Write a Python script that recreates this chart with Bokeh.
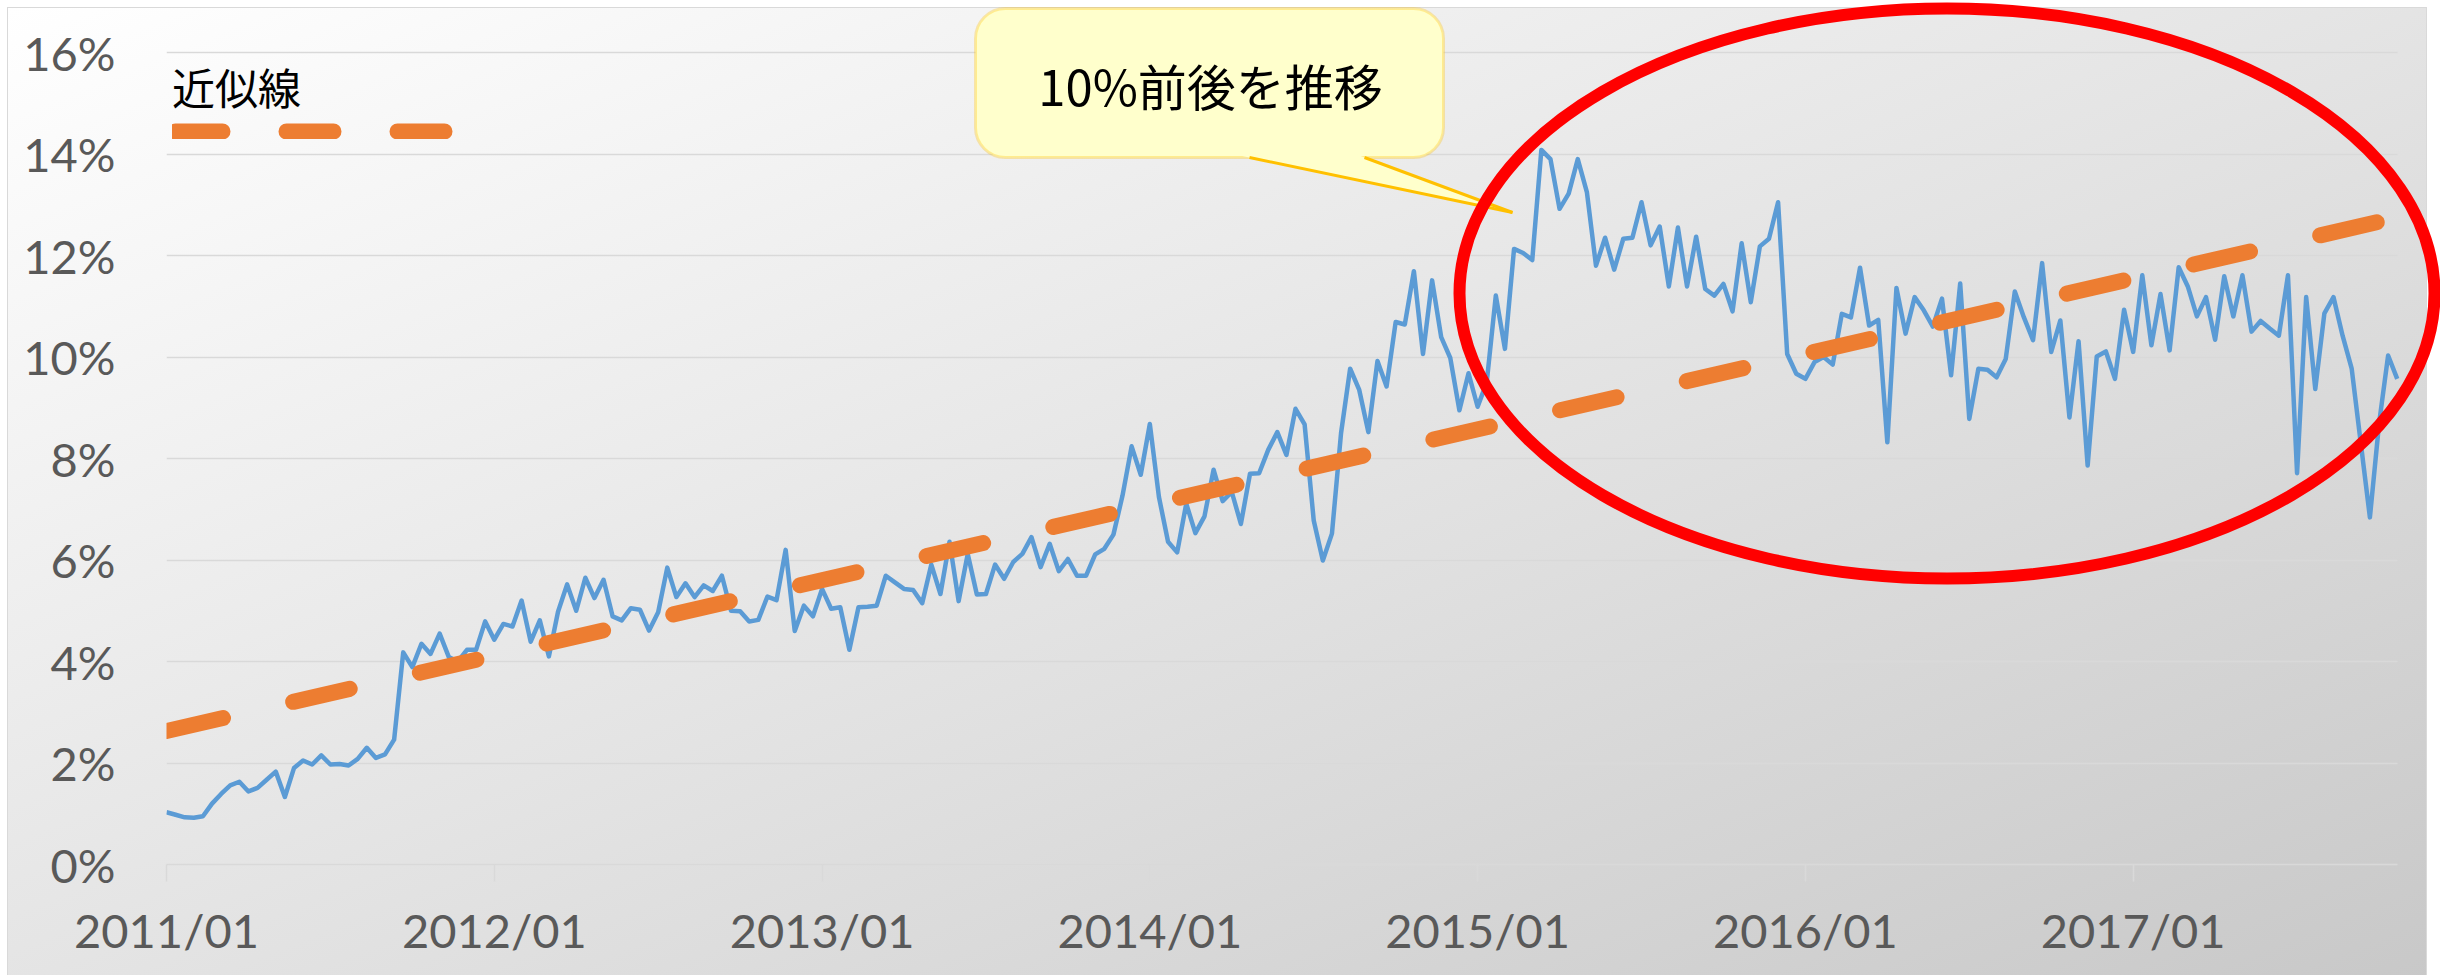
import numpy as np
from bokeh.plotting import figure
from bokeh.models import (Range1d, FixedTicker, PrintfTickFormatter, Legend, LegendItem,
                          BoxAnnotation, PolyAnnotation, Label)
from bokeh.embed import file_html
from bokeh.resources import INLINE

# ---------------- data (percent, 3 points per month: 2011/01 .. 2017/10) ----------------
rate_2011 = [1.03, 0.98, 0.93, 0.92, 0.95, 1.20, 1.39, 1.56, 1.63, 1.44,
             1.51, 1.67, 1.83, 1.33, 1.90, 2.05, 1.97, 2.15, 1.97, 1.98,
             1.95, 2.08, 2.30, 2.10, 2.17, 2.46, 4.18, 3.89, 4.35, 4.15,
             4.55, 4.09, 4.00, 4.23, 4.23, 4.79]
rate_2012 = [4.43, 4.74, 4.69, 5.20, 4.39, 4.81, 4.10, 4.98, 5.52, 5.00,
             5.65, 5.25, 5.61, 4.89, 4.81, 5.05, 5.02, 4.61, 4.97, 5.85,
             5.27, 5.54, 5.27, 5.50, 5.39, 5.69, 5.00, 4.99, 4.79, 4.82,
             5.28, 5.21, 6.20, 4.60, 5.10, 4.89]
rate_2013 = [5.43, 5.04, 5.07, 4.23, 5.07, 5.08, 5.10, 5.69, 5.56, 5.43,
             5.41, 5.15, 5.91, 5.33, 6.36, 5.19, 6.12, 5.32, 5.33, 5.91,
             5.63, 5.96, 6.12, 6.45, 5.86, 6.32, 5.78, 6.02, 5.69, 5.69,
             6.11, 6.22, 6.50, 7.27, 8.24, 7.68]
rate_2014 = [8.68, 7.24, 6.36, 6.15, 7.11, 6.53, 6.86, 7.78, 7.16, 7.34,
             6.71, 7.70, 7.71, 8.17, 8.52, 8.07, 8.98, 8.67, 6.78, 5.99,
             6.52, 8.50, 9.77, 9.35, 8.52, 9.92, 9.42, 10.69, 10.64, 11.69,
             10.06, 11.51, 10.39, 9.98, 8.95, 9.68]
rate_2015 = [9.02, 9.50, 11.21, 10.16, 12.13, 12.05, 11.91, 14.08, 13.90, 12.92,
             13.22, 13.90, 13.25, 11.80, 12.35, 11.72, 12.33, 12.35, 13.05, 12.20,
             12.57, 11.39, 12.55, 11.39, 12.37, 11.34, 11.21, 11.44, 10.90, 12.24,
             11.08, 12.18, 12.33, 13.05, 10.06, 9.67]
rate_2016 = [9.57, 9.90, 10.00, 9.85, 10.85, 10.78, 11.76, 10.62, 10.73, 8.32,
             11.36, 10.46, 11.18, 10.92, 10.60, 11.15, 9.64, 11.45, 8.78, 9.77,
             9.75, 9.60, 9.96, 11.29, 10.78, 10.33, 11.85, 10.10, 10.72, 8.81,
             10.31, 7.86, 10.01, 10.11, 9.57, 10.93]
rate_2017 = [10.10, 11.61, 10.23, 11.24, 10.13, 11.77, 11.39, 10.80, 11.18, 10.34,
             11.59, 10.80, 11.61, 10.50, 10.71, 10.56, 10.42, 11.61, 7.71, 11.18,
             9.37, 10.86, 11.18, 10.42, 9.77, 8.30, 6.84, 8.68, 10.03, 9.57]

rate = rate_2011 + rate_2012 + rate_2013 + rate_2014 + rate_2015 + rate_2016 + rate_2017
x_idx = list(range(len(rate)))

periods_per_year = 36
x_tick_labels = ["2011/01", "2012/01", "2013/01", "2014/01", "2015/01", "2016/01", "2017/01"]
y_ticks = [0, 2, 4, 6, 8, 10, 12, 14, 16]
trend_label = "近似線"
callout_text = "10%前後を推移"

# ---------------- geometry helpers (page pixels -> data) ----------------
# the figure sits at page (0, 0); the chart panel itself starts at (8, 8)
FIG_W, FIG_H = 2440, 975
BORDER_L, BORDER_B = 166, 111
PX_X0 = BORDER_L                # page x of index 0
PX_STEP = 9.105                 # pixels per period
PX_Y0 = FIG_H - BORDER_B        # page y of 0%
PX_PCT = 50.75                  # pixels per 1%

def dx(px):
    return (px - PX_X0) / PX_STEP

def dy(py):
    return (PX_Y0 - py) / PX_PCT

BLUE = "#5B9BD5"
ORANGE = "#ED7D31"
GRID = "#D9D9D9"
TXT = "#595959"
JP = "Noto Sans CJK JP"

p = figure(width=FIG_W, height=FIG_H, output_backend="svg", toolbar_location=None,
           x_range=Range1d(0, dx(FIG_W)), y_range=Range1d(0, dy(0)),
           min_border=0, min_border_left=BORDER_L, min_border_bottom=BORDER_B,
           min_border_top=0, min_border_right=0)
p.border_fill_color = None
p.background_fill_color = None
p.outline_line_color = None
p.styles = {
    "background": ("linear-gradient(to bottom right, #ffffff 0%, #e4e4e4 50%, #c8c8c8 100%) "
                   "8px 8px / 2418px 980px no-repeat, "
                   "linear-gradient(#d9d9d9, #d9d9d9) 7px 7px / 2420px 982px no-repeat, #ffffff"),
}

# axes
p.xaxis.ticker = FixedTicker(ticks=[i * periods_per_year for i in range(len(x_tick_labels))])
p.xaxis.major_label_overrides = {i * periods_per_year: lab for i, lab in enumerate(x_tick_labels)}
p.xaxis.bounds = (0, len(rate) - 1)
p.xaxis.axis_line_color = GRID
p.xaxis.axis_line_width = 1.5
p.xaxis.major_tick_line_color = GRID
p.xaxis.major_tick_line_width = 1.5
p.xaxis.major_tick_in = 0
p.xaxis.major_tick_out = 17
p.xaxis.minor_tick_line_color = None
p.xaxis.major_label_standoff = 20
p.xaxis.major_label_text_font = "Lato"
p.xaxis.major_label_text_font_size = "47px"
p.xaxis.major_label_text_color = TXT

p.yaxis.ticker = FixedTicker(ticks=y_ticks)
p.yaxis.formatter = PrintfTickFormatter(format="%d%%")
p.yaxis.axis_line_color = None
p.yaxis.major_tick_line_color = None
p.yaxis.minor_tick_line_color = None
p.yaxis.major_tick_in = 0
p.yaxis.major_tick_out = 0
p.yaxis.major_label_standoff = 51
p.yaxis.major_label_text_font = "Lato"
p.yaxis.major_label_text_font_size = "47px"
p.yaxis.major_label_text_color = TXT

p.xgrid.visible = False
p.ygrid.grid_line_color = GRID
p.ygrid.grid_line_width = 1.5
p.ygrid.cross_bounds = (0, len(rate) - 1)

# data line
p.line(x_idx, rate, line_color=BLUE, line_width=4.5, line_join="round")

# linear trend line
coef = np.polyfit(x_idx, rate, 1)
tx = [x_idx[0], x_idx[-1]]
ty = list(np.polyval(coef, tx))
p.line(tx, ty, line_color=ORANGE, line_width=16, line_dash="58 72", line_cap="round")

# legend (title above the line sample); proxy renderer lies outside the frame
proxy = p.line([dx(0), dx(2)], [0, 0], line_color=ORANGE, line_width=16,
               line_dash="47 64", line_dash_offset=108, line_cap="round")
legend = Legend(items=[LegendItem(label=" ", renderers=[proxy])], location=(6, 725),
                title=trend_label, title_text_font=JP, title_text_font_size="43px",
                title_text_font_style="normal", title_text_color="black", title_standoff=6,
                glyph_width=281, glyph_height=16, label_height=16, label_width=1,
                label_standoff=0, label_text_font_size="1px",
                padding=0, margin=0, spacing=0,
                background_fill_alpha=0, border_line_alpha=0)
p.add_layout(legend)

# callout
box = BoxAnnotation(left=dx(975), right=dx(1443), top=dy(8), bottom=dy(157),
                    fill_color="#FFFFCC", fill_alpha=1, line_color="#FFC000", line_width=3,
                    border_radius=30)
p.add_layout(box)
poly = PolyAnnotation(xs=[dx(1215.5), dx(1345.2), dx(1512)], ys=[dy(150), dy(150), dy(212)],
                      fill_color="#FFFFCC", fill_alpha=1, line_alpha=0)
p.add_layout(poly)
p.segment(x0=[dx(1249), dx(1364)], y0=[dy(157), dy(157)], x1=[dx(1512), dx(1512)],
          y1=[dy(212), dy(212)], line_color="#FFC000", line_width=3, level="overlay")
p.add_layout(Label(x=dx(1210), y=dy(84), text=callout_text, text_align="center",
                   text_baseline="middle", text_font=JP, text_font_size="49px",
                   text_color="black"))

# red ellipse highlight
p.ellipse(x=[dx(1946.5)], y=[dy(293)], width=2 * 487.5 / PX_STEP, height=2 * 285 / PX_PCT,
          fill_alpha=0, line_color="#FF0000", line_width=12, level="overlay")

open("out.html", "w").write(file_html(p, INLINE))
